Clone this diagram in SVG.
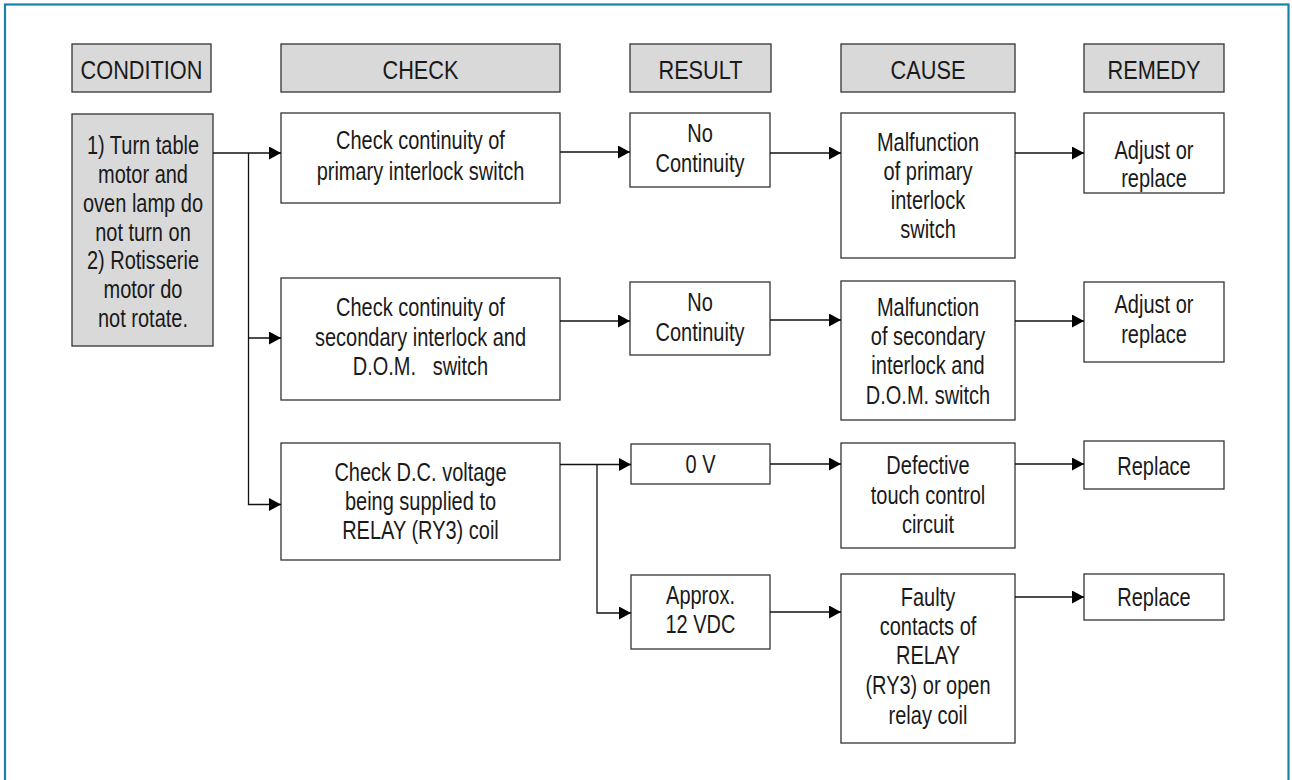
<svg xmlns="http://www.w3.org/2000/svg" width="1292" height="780" viewBox="0 0 1292 780">
<defs>
<style>
text{font-family:"Liberation Sans",Arial,sans-serif;fill:#1a1a1a;text-anchor:middle;white-space:pre}
.b{font-size:25px}
.h{font-size:26.5px}
.hd{fill:#d9d9d9;stroke:#333;stroke-width:1.3}
.bx{fill:#fff;stroke:#333;stroke-width:1.3}
.cn{fill:none;stroke:#111;stroke-width:1.3}
</style>
<marker id="ar" markerUnits="userSpaceOnUse" markerWidth="13" markerHeight="14" refX="12" refY="6.5" orient="auto">
<path d="M0,0 L12,6.5 L0,13 Z" fill="#000"/>
</marker>
</defs>
<rect width="1292" height="780" fill="#fff"/>
<rect x="5" y="4.5" width="1283.5" height="800" fill="none" stroke="#1a82a8" stroke-width="2.2"/>

<g id="h-condition"><rect class="hd" x="72" y="44" width="139" height="48"/><text class="h" transform="matrix(0.82 0 0 1 25.47 0)" x="141.5" y="79">CONDITION</text></g>
<g id="h-check"><rect class="hd" x="281" y="44" width="279" height="48"/><text class="h" transform="matrix(0.82 0 0 1 75.69 0)" x="420.5" y="79">CHECK</text></g>
<g id="h-result"><rect class="hd" x="630" y="44" width="141" height="48"/><text class="h" transform="matrix(0.82 0 0 1 126.09 0)" x="700.5" y="79">RESULT</text></g>
<g id="h-cause"><rect class="hd" x="841" y="44" width="174" height="48"/><text class="h" transform="matrix(0.82 0 0 1 167.04 0)" x="928" y="79">CAUSE</text></g>
<g id="h-remedy"><rect class="hd" x="1084" y="44" width="140" height="48"/><text class="h" transform="matrix(0.82 0 0 1 207.72 0)" x="1154" y="79">REMEDY</text></g>

<g id="condition"><rect class="hd" x="72" y="114" width="141" height="232"/>
<text class="b" transform="matrix(0.8 0 0 1 28.6 0)"><tspan x="143" y="154">1) Turn table</tspan><tspan x="143" y="183">motor and</tspan><tspan x="143" y="212">oven lamp do</tspan><tspan x="143" y="241">not turn on</tspan><tspan x="143" y="269">2) Rotisserie</tspan><tspan x="143" y="298">motor do</tspan><tspan x="143" y="327">not rotate.</tspan></text></g>

<g id="check1"><rect class="bx" x="281" y="113" width="279" height="90"/>
<text class="b" transform="matrix(0.8 0 0 1 84.1 0)"><tspan x="420.5" y="149">Check continuity of</tspan><tspan x="420.5" y="180">primary interlock switch</tspan></text></g>
<g id="check2"><rect class="bx" x="281" y="278" width="279" height="122"/>
<text class="b" transform="matrix(0.8 0 0 1 84.1 0)"><tspan x="420.5" y="316">Check continuity of</tspan><tspan x="420.5" y="346">secondary interlock and</tspan><tspan x="420.5" y="375">D.O.M.   switch</tspan></text></g>
<g id="check3"><rect class="bx" x="281" y="443" width="279" height="117"/>
<text class="b" transform="matrix(0.8 0 0 1 84.1 0)"><tspan x="420.5" y="481">Check D.C. voltage</tspan><tspan x="420.5" y="510">being supplied to</tspan><tspan x="420.5" y="539">RELAY (RY3) coil</tspan></text></g>

<g id="result1"><rect class="bx" x="630" y="113" width="140" height="74"/>
<text class="b" transform="matrix(0.8 0 0 1 140 0)"><tspan x="700" y="142">No</tspan><tspan x="700" y="172">Continuity</tspan></text></g>
<g id="result2"><rect class="bx" x="630" y="282" width="140" height="73"/>
<text class="b" transform="matrix(0.8 0 0 1 140 0)"><tspan x="700" y="311">No</tspan><tspan x="700" y="341">Continuity</tspan></text></g>
<g id="result3"><rect class="bx" x="631" y="444" width="139" height="40"/>
<text class="b" transform="matrix(0.8 0 0 1 140.1 0)" x="700.5" y="473">0 V</text></g>
<g id="result4"><rect class="bx" x="631" y="575" width="139" height="74"/>
<text class="b" transform="matrix(0.8 0 0 1 140.1 0)"><tspan x="700.5" y="604">Approx.</tspan><tspan x="700.5" y="633">12 VDC</tspan></text></g>

<g id="cause1"><rect class="bx" x="841" y="113" width="174" height="145"/>
<text class="b" transform="matrix(0.8 0 0 1 185.6 0)"><tspan x="928" y="151.5">Malfunction</tspan><tspan x="928" y="180.5">of primary</tspan><tspan x="928" y="209.5">interlock</tspan><tspan x="928" y="238.5">switch</tspan></text></g>
<g id="cause2"><rect class="bx" x="841" y="281" width="174" height="139"/>
<text class="b" transform="matrix(0.8 0 0 1 185.6 0)"><tspan x="928" y="316">Malfunction</tspan><tspan x="928" y="345">of secondary</tspan><tspan x="928" y="374">interlock and</tspan><tspan x="928" y="404">D.O.M. switch</tspan></text></g>
<g id="cause3"><rect class="bx" x="841" y="443" width="174" height="105"/>
<text class="b" transform="matrix(0.8 0 0 1 185.6 0)"><tspan x="928" y="474">Defective</tspan><tspan x="928" y="504">touch control</tspan><tspan x="928" y="533">circuit</tspan></text></g>
<g id="cause4"><rect class="bx" x="841" y="574" width="174" height="169"/>
<text class="b" transform="matrix(0.8 0 0 1 185.6 0)"><tspan x="928" y="606">Faulty</tspan><tspan x="928" y="635">contacts of</tspan><tspan x="928" y="664">RELAY</tspan><tspan x="928" y="694">(RY3) or open</tspan><tspan x="928" y="724">relay coil</tspan></text></g>

<g id="remedy1"><rect class="bx" x="1084" y="113" width="140" height="80"/>
<text class="b" transform="matrix(0.8 0 0 1 230.8 0)"><tspan x="1154" y="159">Adjust or</tspan><tspan x="1154" y="187">replace</tspan></text></g>
<g id="remedy2"><rect class="bx" x="1084" y="282" width="140" height="80"/>
<text class="b" transform="matrix(0.8 0 0 1 230.8 0)"><tspan x="1154" y="313">Adjust or</tspan><tspan x="1154" y="343">replace</tspan></text></g>
<g id="remedy3"><rect class="bx" x="1084" y="441" width="140" height="48"/>
<text class="b" transform="matrix(0.8 0 0 1 230.8 0)" x="1154" y="475">Replace</text></g>
<g id="remedy4"><rect class="bx" x="1084" y="574" width="140" height="46"/>
<text class="b" transform="matrix(0.8 0 0 1 230.8 0)" x="1154" y="606">Replace</text></g>

<g id="connectors">
<path class="cn" d="M213,153 H281" marker-end="url(#ar)"/>
<path class="cn" d="M248.5,153 V504.5 H281" marker-end="url(#ar)"/>
<path class="cn" d="M248.5,338 H281" marker-end="url(#ar)"/>
<path class="cn" d="M560,152 H630" marker-end="url(#ar)"/>
<path class="cn" d="M770,153 H841" marker-end="url(#ar)"/>
<path class="cn" d="M1015,153 H1084" marker-end="url(#ar)"/>
<path class="cn" d="M560,321 H630" marker-end="url(#ar)"/>
<path class="cn" d="M770,320 H841" marker-end="url(#ar)"/>
<path class="cn" d="M1015,321 H1084" marker-end="url(#ar)"/>
<path class="cn" d="M560,464.5 H631" marker-end="url(#ar)"/>
<path class="cn" d="M597,464.5 V613 H631" marker-end="url(#ar)"/>
<path class="cn" d="M770,464 H841" marker-end="url(#ar)"/>
<path class="cn" d="M1015,464 H1084" marker-end="url(#ar)"/>
<path class="cn" d="M770,612 H841" marker-end="url(#ar)"/>
<path class="cn" d="M1015,597 H1084" marker-end="url(#ar)"/>
</g>
</svg>
